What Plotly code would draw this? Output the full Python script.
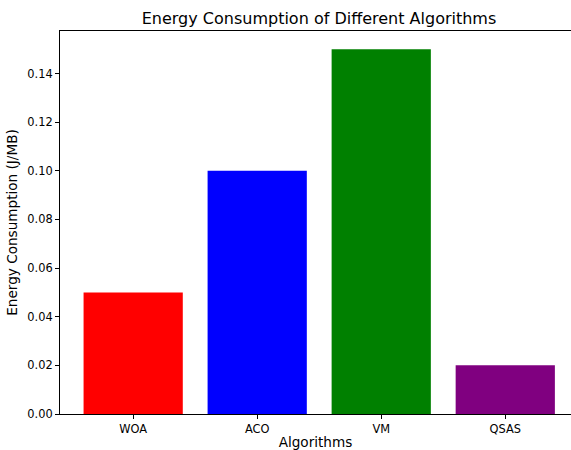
import plotly.graph_objects as go

algorithms = ["WOA", "ACO", "VM", "QSAS"]
energy = [0.05, 0.10, 0.15, 0.02]
bar_colors = ["red", "blue", "green", "purple"]
y_ticks = [0.00, 0.02, 0.04, 0.06, 0.08, 0.10, 0.12, 0.14]

W, H = 571, 450
FONT = "DejaVu Sans"

fig = go.Figure(
    go.Bar(
        x=list(range(len(algorithms))),
        y=energy,
        width=0.8,
        marker=dict(color=bar_colors, line=dict(width=0)),
    )
)

fig.update_layout(
    width=W,
    height=H,
    margin=dict(l=60, r=0, t=31, b=36, pad=0),
    paper_bgcolor="white",
    plot_bgcolor="white",
    showlegend=False,
    font=dict(family=FONT, color="black"),
    title=dict(
        text="Energy Consumption of Different Algorithms",
        font=dict(family=FONT, size=16, color="black"),
        x=319 / W,
        xref="container",
        xanchor="center",
        y=1 - 18 / H,
        yref="container",
        yanchor="middle",
    ),
)

fig.update_xaxes(
    range=[-0.59, 3.53],
    tickvals=list(range(len(algorithms))),
    ticktext=algorithms,
    ticks="outside",
    ticklen=4,
    tickwidth=1,
    tickcolor="black",
    tickfont=dict(family=FONT, size=11.4, color="black"),
    showline=True,
    linecolor="black",
    linewidth=1,
    mirror=True,
    showgrid=False,
    zeroline=False,
    title=dict(text="Algorithms", font=dict(family=FONT, size=13.6, color="black"), standoff=4),
)

fig.update_yaxes(
    range=[0, 0.1575],
    tickvals=y_ticks,
    tickformat=".2f",
    ticks="outside",
    ticklen=4,
    tickwidth=1,
    tickcolor="black",
    tickfont=dict(family=FONT, size=11.4, color="black"),
    showline=True,
    linecolor="black",
    linewidth=1,
    mirror=False,
    showgrid=False,
    zeroline=False,
    title=dict(text="Energy Consumption (J/MB)", font=dict(family=FONT, size=13.6, color="black"), standoff=6),
)

fig.write_html(
    "out.html",
    config={"displayModeBar": False},
    post_script="document.body.style.margin='0';document.body.style.overflow='hidden';",
)
